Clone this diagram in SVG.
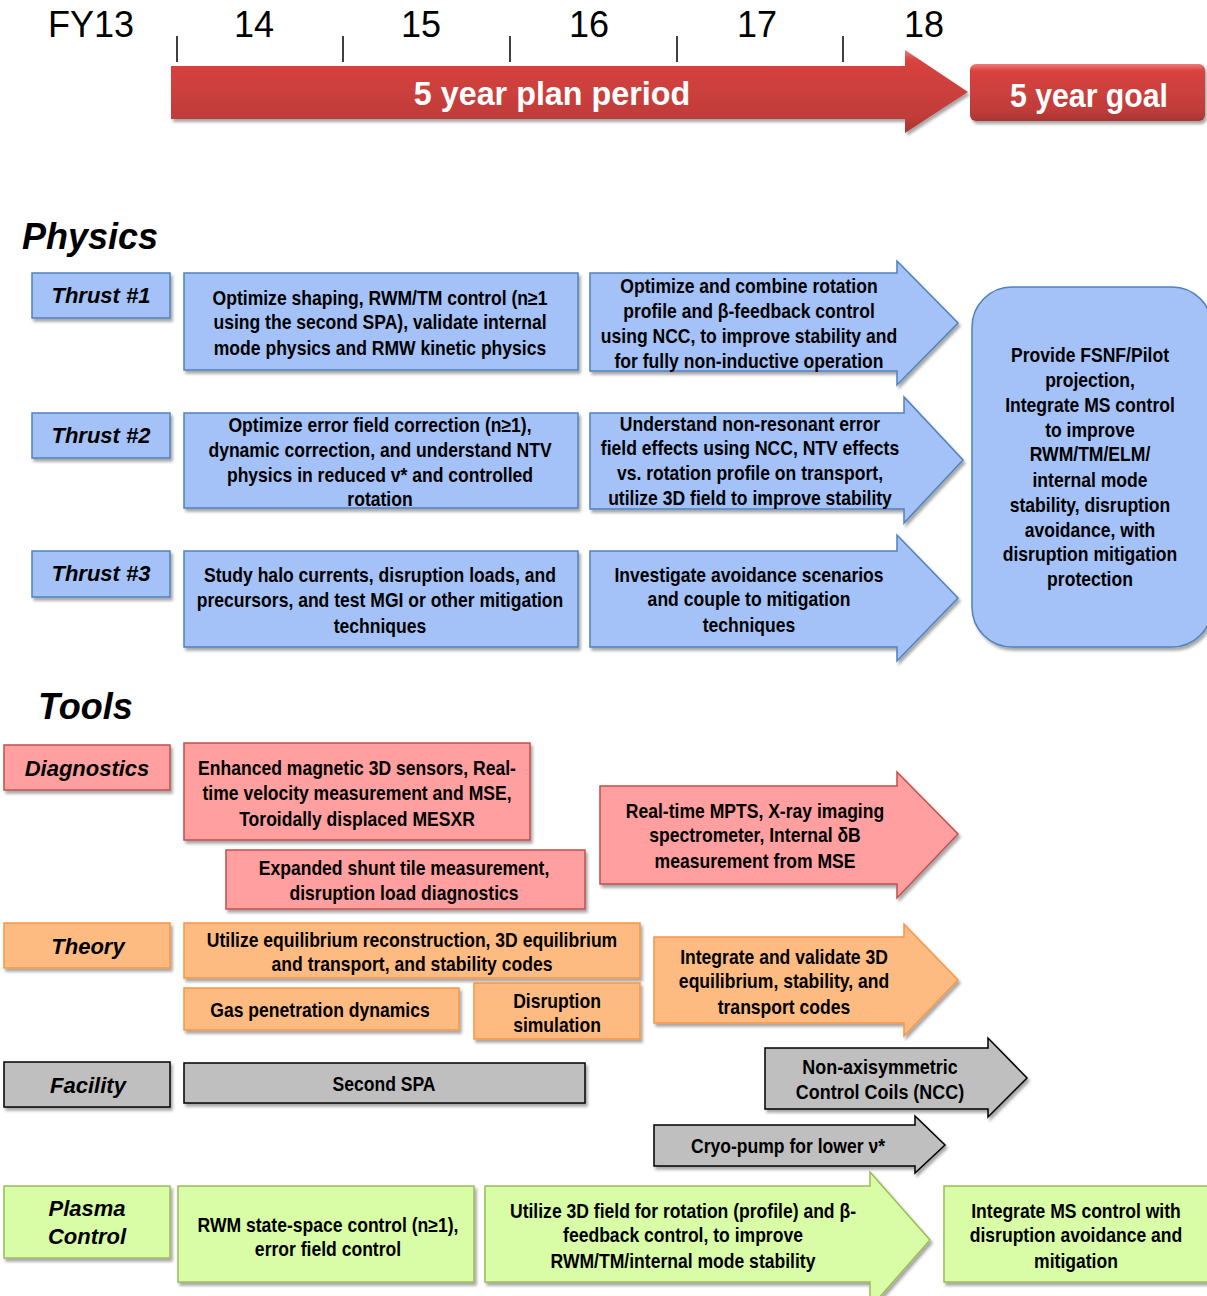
<svg xmlns="http://www.w3.org/2000/svg" width="1207" height="1296" viewBox="0 0 1207 1296">
<defs>
<filter id="sh" x="-10%" y="-10%" width="120%" height="130%">
<feDropShadow dx="2" dy="3" stdDeviation="1.8" flood-color="#000" flood-opacity="0.35"/>
</filter>
<linearGradient id="red" x1="0" y1="0" x2="0" y2="1">
<stop offset="0" stop-color="#f07a78"/>
<stop offset="0.12" stop-color="#d9423f"/>
<stop offset="0.8" stop-color="#c03d3a"/>
<stop offset="1" stop-color="#a93432"/>
</linearGradient>
<style>
.yr{font-family:"Liberation Sans",Arial,sans-serif;font-size:36px;fill:#000}
.tick{stroke:#000;stroke-width:1.5}
.big{font-family:"Liberation Sans",Arial,sans-serif;font-weight:bold;font-size:34px;fill:#fff;text-anchor:middle}
.hd{font-family:"Liberation Sans",Arial,sans-serif;font-weight:bold;font-style:italic;font-size:36px;fill:#000}
.lab{font-family:"Liberation Sans",Arial,sans-serif;font-weight:bold;font-style:italic;font-size:22px;fill:#000;text-anchor:middle}
.t{font-family:"Liberation Sans",Arial,sans-serif;font-weight:bold;font-size:19.5px;fill:#000;text-anchor:middle}
.blue{fill:#a4c2f7;stroke:#4f81bd;stroke-width:1.5;filter:url(#sh)}
.pink{fill:#ff9f9f;stroke:#c0504d;stroke-width:1.5;filter:url(#sh)}
.org{fill:#fdbb82;stroke:#f79646;stroke-width:1.5;filter:url(#sh)}
.gry{fill:#bfbfbf;stroke:#000;stroke-width:1.5;filter:url(#sh)}
.grn{fill:#d9fca6;stroke:#9bbb59;stroke-width:1.5;filter:url(#sh)}
</style>
</defs>
<rect width="1207" height="1296" fill="#fff"/>

<g id="timeline">
<text class="yr" x="48" y="37">FY13</text>
<text class="yr" x="254" y="37" text-anchor="middle">14</text>
<text class="yr" x="421" y="37" text-anchor="middle">15</text>
<text class="yr" x="589" y="37" text-anchor="middle">16</text>
<text class="yr" x="757" y="37" text-anchor="middle">17</text>
<text class="yr" x="924" y="37" text-anchor="middle">18</text>
<line class="tick" x1="177" y1="36" x2="177" y2="62"/>
<line class="tick" x1="343" y1="36" x2="343" y2="62"/>
<line class="tick" x1="510" y1="36" x2="510" y2="62"/>
<line class="tick" x1="677" y1="36" x2="677" y2="62"/>
<line class="tick" x1="843" y1="36" x2="843" y2="62"/>
</g>
<g id="plan-period">
<path d="M171,66 H905 V50 L968,92 L905,133 V119 H171 Z" fill="url(#red)" filter="url(#sh)"/>
<g transform="translate(552,0) scale(0.95,1)"><text class="big" x="0" y="105">5 year plan period</text></g>
</g>
<g id="goal">
<rect x="970" y="64" width="235" height="57" rx="6" fill="url(#red)" filter="url(#sh)"/>
<g transform="translate(1089,0) scale(0.89,1)"><text class="big" x="0" y="107">5 year goal</text></g>
</g>

<text class="hd" x="22" y="249">Physics</text>
<text class="hd" x="38" y="719">Tools</text>

<g id="thrust1">
<rect class="blue" x="32" y="273" width="138" height="45"/>
<text class="lab" x="101" y="303">Thrust #1</text>
</g>
<g id="thrust2">
<rect class="blue" x="32" y="413" width="138" height="45"/>
<text class="lab" x="101" y="443">Thrust #2</text>
</g>
<g id="thrust3">
<rect class="blue" x="32" y="551" width="138" height="46"/>
<text class="lab" x="101" y="581">Thrust #3</text>
</g>

<g id="p1a">
<rect class="blue" x="184" y="273" width="394" height="97"/>
<g transform="translate(380,0) scale(0.9,1)"><text class="t"><tspan x="0" y="305">Optimize shaping, RWM/TM control (n≥1</tspan><tspan x="0" y="329">using the second SPA), validate internal</tspan><tspan x="0" y="355">mode physics and RMW kinetic physics</tspan></text></g>
</g>
<g id="p2a">
<rect class="blue" x="184" y="413" width="394" height="95"/>
<g transform="translate(380,0) scale(0.9,1)"><text class="t"><tspan x="0" y="432">Optimize error field correction (n≥1),</tspan><tspan x="0" y="457">dynamic correction, and understand NTV</tspan><tspan x="0" y="482">physics in reduced v* and controlled</tspan><tspan x="0" y="506">rotation</tspan></text></g>
</g>
<g id="p3a">
<rect class="blue" x="184" y="551" width="394" height="96"/>
<g transform="translate(380,0) scale(0.9,1)"><text class="t"><tspan x="0" y="582">Study halo currents, disruption loads, and</tspan><tspan x="0" y="607">precursors, and test MGI or other mitigation</tspan><tspan x="0" y="633">techniques</tspan></text></g>
</g>

<g id="p1b">
<path class="blue" d="M590,273 H897 V261 L958,323 L897,385 V371 H590 Z"/>
<g transform="translate(749,0) scale(0.9,1)"><text class="t"><tspan x="0" y="293">Optimize and combine rotation</tspan><tspan x="0" y="318">profile and β-feedback control</tspan><tspan x="0" y="343">using NCC, to improve stability and</tspan><tspan x="0" y="368">for fully non-inductive operation</tspan></text></g>
</g>
<g id="p2b">
<path class="blue" d="M590,413 H904 V397 L963,460 L904,523 V509 H590 Z"/>
<g transform="translate(750,0) scale(0.9,1)"><text class="t"><tspan x="0" y="431">Understand non-resonant error</tspan><tspan x="0" y="455">field effects using NCC, NTV effects</tspan><tspan x="0" y="480">vs. rotation profile on transport,</tspan><tspan x="0" y="505">utilize 3D field to improve stability</tspan></text></g>
</g>
<g id="p3b">
<path class="blue" d="M590,551 H897 V535 L958,598 L897,661 V647 H590 Z"/>
<g transform="translate(749,0) scale(0.9,1)"><text class="t"><tspan x="0" y="582">Investigate avoidance scenarios</tspan><tspan x="0" y="606">and couple to mitigation</tspan><tspan x="0" y="632">techniques</tspan></text></g>
</g>

<g id="physics-goal">
<rect class="blue" x="972" y="287" width="240" height="360" rx="40"/>
<g transform="translate(1090,0) scale(0.9,1)"><text class="t"><tspan x="0" y="362">Provide FSNF/Pilot</tspan><tspan x="0" y="387">projection,</tspan><tspan x="0" y="412">Integrate MS control</tspan><tspan x="0" y="437">to improve</tspan><tspan x="0" y="461">RWM/TM/ELM/</tspan><tspan x="0" y="487">internal mode</tspan><tspan x="0" y="512">stability, disruption</tspan><tspan x="0" y="537">avoidance, with</tspan><tspan x="0" y="561">disruption mitigation</tspan><tspan x="0" y="586">protection</tspan></text></g>
</g>

<g id="diagnostics">
<rect class="pink" x="4" y="745" width="166" height="45"/>
<text class="lab" x="87" y="776">Diagnostics</text>
</g>
<g id="d1">
<rect class="pink" x="184" y="743" width="346" height="97"/>
<g transform="translate(357,0) scale(0.9,1)"><text class="t"><tspan x="0" y="775">Enhanced magnetic 3D sensors, Real-</tspan><tspan x="0" y="800">time velocity measurement and MSE,</tspan><tspan x="0" y="826">Toroidally displaced MESXR</tspan></text></g>
</g>
<g id="d2">
<rect class="pink" x="226" y="850" width="359" height="59"/>
<g transform="translate(404,0) scale(0.9,1)"><text class="t"><tspan x="0" y="875">Expanded shunt tile measurement,</tspan><tspan x="0" y="900">disruption load diagnostics</tspan></text></g>
</g>
<g id="d3">
<path class="pink" d="M600,786 H897 V772 L958,834 L897,898 V884 H600 Z"/>
<g transform="translate(755,0) scale(0.9,1)"><text class="t"><tspan x="0" y="818">Real-time MPTS, X-ray imaging</tspan><tspan x="0" y="842">spectrometer, Internal δB</tspan><tspan x="0" y="868">measurement from MSE</tspan></text></g>
</g>

<g id="theory">
<rect class="org" x="4" y="923" width="166" height="45"/>
<text class="lab" x="88" y="954">Theory</text>
</g>
<g id="th1">
<rect class="org" x="184" y="923" width="456" height="55"/>
<g transform="translate(412,0) scale(0.9,1)"><text class="t"><tspan x="0" y="947">Utilize equilibrium reconstruction, 3D equilibrium</tspan><tspan x="0" y="971">and transport, and stability codes</tspan></text></g>
</g>
<g id="th2">
<rect class="org" x="184" y="988" width="275" height="42"/>
<g transform="translate(320,0) scale(0.9,1)"><text class="t" x="0" y="1017">Gas penetration dynamics</text></g>
</g>
<g id="th3">
<rect class="org" x="474" y="983" width="166" height="56"/>
<g transform="translate(557,0) scale(0.9,1)"><text class="t"><tspan x="0" y="1008">Disruption</tspan><tspan x="0" y="1032">simulation</tspan></text></g>
</g>
<g id="th4">
<path class="org" d="M654,937 H904 V924 L958,980 L904,1036 V1023 H654 Z"/>
<g transform="translate(784,0) scale(0.9,1)"><text class="t"><tspan x="0" y="964">Integrate and validate 3D</tspan><tspan x="0" y="988">equilibrium, stability, and</tspan><tspan x="0" y="1014">transport codes</tspan></text></g>
</g>

<g id="facility">
<rect class="gry" x="4" y="1062" width="166" height="45"/>
<text class="lab" x="88" y="1093">Facility</text>
</g>
<g id="f1">
<rect class="gry" x="184" y="1063" width="401" height="40"/>
<g transform="translate(384,0) scale(0.9,1)"><text class="t" x="0" y="1091">Second SPA</text></g>
</g>
<g id="f2">
<path class="gry" d="M765,1048 H988 V1038 L1027,1078 L988,1117 V1109 H765 Z"/>
<g transform="translate(880,0) scale(0.92,1)"><text class="t"><tspan x="0" y="1074">Non-axisymmetric</tspan><tspan x="0" y="1099">Control Coils (NCC)</tspan></text></g>
</g>
<g id="f3">
<path class="gry" d="M654,1125 H915 V1116 L945,1145 L915,1173 V1166 H654 Z"/>
<g transform="translate(788,0) scale(0.9,1)"><text class="t" x="0" y="1153">Cryo-pump for lower ν*</text></g>
</g>

<g id="plasma-control">
<rect class="grn" x="4" y="1186" width="166" height="72"/>
<text class="lab"><tspan x="87" y="1216">Plasma</tspan><tspan x="87" y="1244">Control</tspan></text>
</g>
<g id="pc1">
<rect class="grn" x="178" y="1186" width="296" height="96"/>
<g transform="translate(328,0) scale(0.9,1)"><text class="t"><tspan x="0" y="1232">RWM state-space control (n≥1),</tspan><tspan x="0" y="1256">error field control</tspan></text></g>
</g>
<g id="pc2">
<path class="grn" d="M485,1186 H870 V1172 L930,1240 L870,1308 V1282 H485 Z"/>
<g transform="translate(683,0) scale(0.9,1)"><text class="t"><tspan x="0" y="1218">Utilize 3D field for rotation (profile) and β-</tspan><tspan x="0" y="1242">feedback control, to improve</tspan><tspan x="0" y="1268">RWM/TM/internal mode stability</tspan></text></g>
</g>
<g id="pc3">
<rect class="grn" x="944" y="1186" width="266" height="96"/>
<g transform="translate(1076,0) scale(0.9,1)"><text class="t"><tspan x="0" y="1218">Integrate MS control with</tspan><tspan x="0" y="1242">disruption avoidance and</tspan><tspan x="0" y="1268">mitigation</tspan></text></g>
</g>
<g id="connectors"></g>
</svg>
